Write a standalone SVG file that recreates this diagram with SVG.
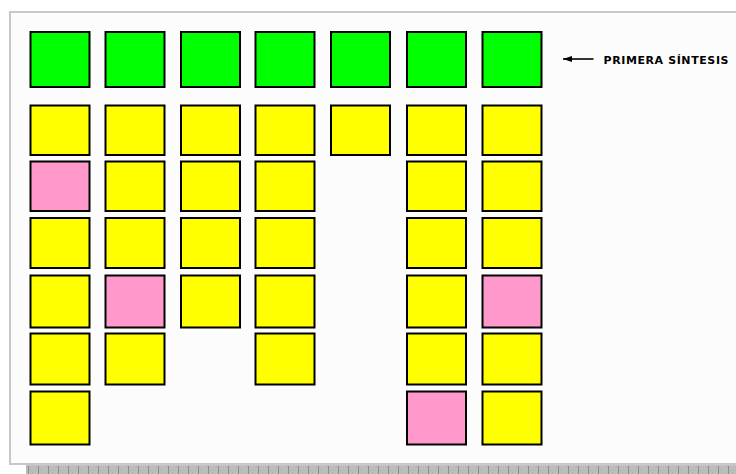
<svg xmlns="http://www.w3.org/2000/svg" width="736" height="474" viewBox="0 0 736 474">
<style>
.b{stroke:#000;stroke-width:2}
.g{fill:#00ff00}
.y{fill:#ffff00}
.p{fill:#ff99cc}
.lbl{font-family:"DejaVu Sans",Verdana,sans-serif;font-weight:bold;font-size:11px;fill:#000}
</style>
<defs>
<pattern id="rul" x="26" y="466" width="10" height="8" patternUnits="userSpaceOnUse">
<rect width="10" height="8" fill="#bcbcbc"/>
<rect x="0" y="0" width="1" height="1" fill="#a8a8a8"/>
<rect x="2" y="2" width="1" height="1" fill="#a8a8a8"/>
<rect x="4" y="4" width="1" height="1" fill="#a8a8a8"/>
<rect x="6" y="6" width="1" height="1" fill="#a8a8a8"/>
<rect x="2" y="0" width="1" height="8" fill="#8c8c8c"/>
</pattern>
<marker id="ah" viewBox="0 0 9 7" refX="9" refY="3.5" markerWidth="9" markerHeight="7" orient="auto" markerUnits="userSpaceOnUse">
<path d="M0,0.5 L9,3.5 L0,6.5 Z" fill="#000"/>
</marker>
</defs>
<rect x="0" y="0" width="736" height="474" fill="#ffffff"/>
<rect x="10" y="12" width="740" height="452" fill="#fcfcfc" stroke="#c8c8c8" stroke-width="2"/>
<rect x="26" y="465" width="710" height="9" fill="url(#rul)"/>
<rect x="26" y="465" width="710" height="1" fill="#c4c4c4"/>

<g id="c1r0"><rect class="b g" x="30.5" y="32" width="59" height="55"/></g>
<g id="c2r0"><rect class="b g" x="105.5" y="32" width="59" height="55"/></g>
<g id="c3r0"><rect class="b g" x="181" y="32" width="59" height="55"/></g>
<g id="c4r0"><rect class="b g" x="255.5" y="32" width="59" height="55"/></g>
<g id="c5r0"><rect class="b g" x="331" y="32" width="59" height="55"/></g>
<g id="c6r0"><rect class="b g" x="407" y="32" width="59" height="55"/></g>
<g id="c7r0"><rect class="b g" x="482.5" y="32" width="59" height="55"/></g>

<g id="c1r1"><rect class="b y" x="30.5" y="105.5" width="59" height="49.5"/></g>
<g id="c1r2"><rect class="b p" x="30.5" y="161.5" width="59" height="49.5"/></g>
<g id="c1r3"><rect class="b y" x="30.5" y="218" width="59" height="50"/></g>
<g id="c1r4"><rect class="b y" x="30.5" y="275.5" width="59" height="52"/></g>
<g id="c1r5"><rect class="b y" x="30.5" y="333.5" width="59" height="51"/></g>
<g id="c1r6"><rect class="b y" x="30.5" y="391.5" width="59" height="53"/></g>

<g id="c2r1"><rect class="b y" x="105.5" y="105.5" width="59" height="49.5"/></g>
<g id="c2r2"><rect class="b y" x="105.5" y="161.5" width="59" height="49.5"/></g>
<g id="c2r3"><rect class="b y" x="105.5" y="218" width="59" height="50"/></g>
<g id="c2r4"><rect class="b p" x="105.5" y="275.5" width="59" height="52"/></g>
<g id="c2r5"><rect class="b y" x="105.5" y="333.5" width="59" height="51"/></g>

<g id="c3r1"><rect class="b y" x="181" y="105.5" width="59" height="49.5"/></g>
<g id="c3r2"><rect class="b y" x="181" y="161.5" width="59" height="49.5"/></g>
<g id="c3r3"><rect class="b y" x="181" y="218" width="59" height="50"/></g>
<g id="c3r4"><rect class="b y" x="181" y="275.5" width="59" height="52"/></g>

<g id="c4r1"><rect class="b y" x="255.5" y="105.5" width="59" height="49.5"/></g>
<g id="c4r2"><rect class="b y" x="255.5" y="161.5" width="59" height="49.5"/></g>
<g id="c4r3"><rect class="b y" x="255.5" y="218" width="59" height="50"/></g>
<g id="c4r4"><rect class="b y" x="255.5" y="275.5" width="59" height="52"/></g>
<g id="c4r5"><rect class="b y" x="255.5" y="333.5" width="59" height="51"/></g>

<g id="c5r1"><rect class="b y" x="331" y="105.5" width="59" height="49.5"/></g>

<g id="c6r1"><rect class="b y" x="407" y="105.5" width="59" height="49.5"/></g>
<g id="c6r2"><rect class="b y" x="407" y="161.5" width="59" height="49.5"/></g>
<g id="c6r3"><rect class="b y" x="407" y="218" width="59" height="50"/></g>
<g id="c6r4"><rect class="b y" x="407" y="275.5" width="59" height="52"/></g>
<g id="c6r5"><rect class="b y" x="407" y="333.5" width="59" height="51"/></g>
<g id="c6r6"><rect class="b p" x="407" y="391.5" width="59" height="53"/></g>

<g id="c7r1"><rect class="b y" x="482.5" y="105.5" width="59" height="49.5"/></g>
<g id="c7r2"><rect class="b y" x="482.5" y="161.5" width="59" height="49.5"/></g>
<g id="c7r3"><rect class="b y" x="482.5" y="218" width="59" height="50"/></g>
<g id="c7r4"><rect class="b p" x="482.5" y="275.5" width="59" height="52"/></g>
<g id="c7r5"><rect class="b y" x="482.5" y="333.5" width="59" height="51"/></g>
<g id="c7r6"><rect class="b y" x="482.5" y="391.5" width="59" height="53"/></g>

<g id="connectors">
<path d="M593.5,59 H563" fill="none" stroke="#000" stroke-width="1.6" marker-end="url(#ah)"/>
</g>
<g id="label">
<text class="lbl" x="603.5" y="63.5" textLength="125" lengthAdjust="spacing">PRIMERA SÍNTESIS</text>
</g>
</svg>
